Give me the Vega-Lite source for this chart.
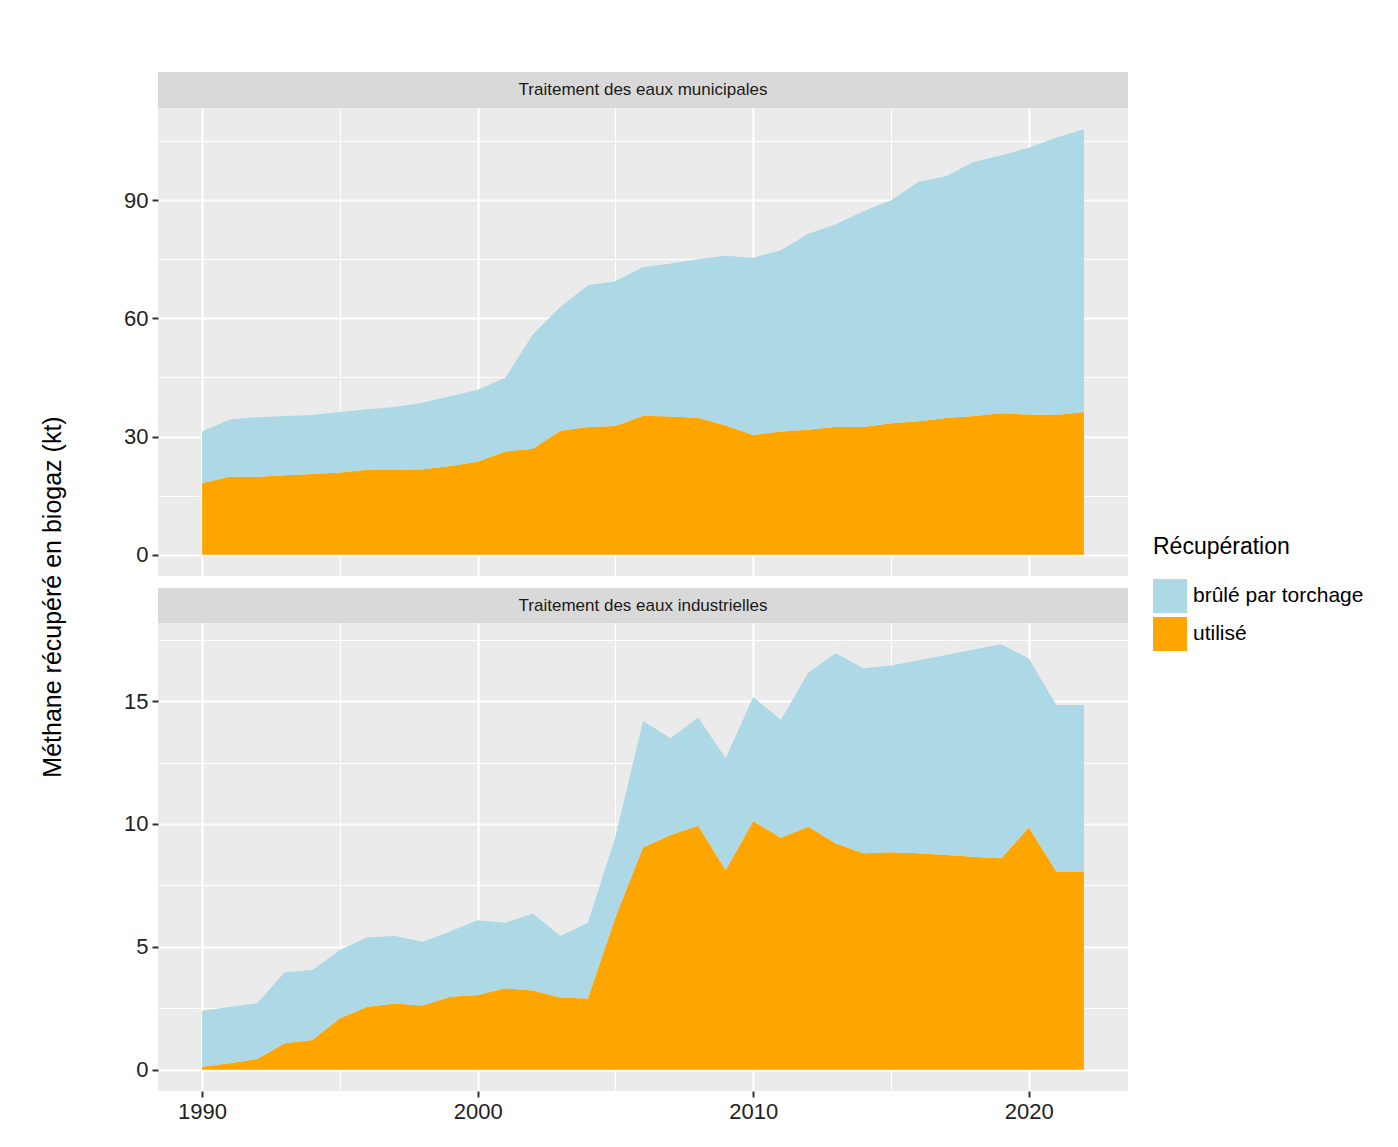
{
  "$schema": "https://vega.github.io/schema/vega-lite/v6.json",
  "background": "white",
  "padding": {"left": 40, "top": 72, "right": 5, "bottom": 5},
  "title": {"text": "Méthane récupéré en biogaz (kt)", "orient": "left", "anchor": "middle", "fontSize": 25, "fontWeight": "normal", "color": "#000000", "font": "Liberation Sans", "offset": 58},
  "datasets": {
    "mun": [
      {"annee":1990,"Récupération":"utilisé","kt":18.2},{"annee":1991,"Récupération":"utilisé","kt":19.8},{"annee":1992,"Récupération":"utilisé","kt":19.8},{"annee":1993,"Récupération":"utilisé","kt":20.2},{"annee":1994,"Récupération":"utilisé","kt":20.5},{"annee":1995,"Récupération":"utilisé","kt":20.9},{"annee":1996,"Récupération":"utilisé","kt":21.6},{"annee":1997,"Récupération":"utilisé","kt":21.5},{"annee":1998,"Récupération":"utilisé","kt":21.7},{"annee":1999,"Récupération":"utilisé","kt":22.5},{"annee":2000,"Récupération":"utilisé","kt":23.6},{"annee":2001,"Récupération":"utilisé","kt":26.2},{"annee":2002,"Récupération":"utilisé","kt":26.9},{"annee":2003,"Récupération":"utilisé","kt":31.5},{"annee":2004,"Récupération":"utilisé","kt":32.4},{"annee":2005,"Récupération":"utilisé","kt":32.7},{"annee":2006,"Récupération":"utilisé","kt":35.3},{"annee":2007,"Récupération":"utilisé","kt":35.1},{"annee":2008,"Récupération":"utilisé","kt":34.8},{"annee":2009,"Récupération":"utilisé","kt":32.8},{"annee":2010,"Récupération":"utilisé","kt":30.4},{"annee":2011,"Récupération":"utilisé","kt":31.3},{"annee":2012,"Récupération":"utilisé","kt":31.7},{"annee":2013,"Récupération":"utilisé","kt":32.5},{"annee":2014,"Récupération":"utilisé","kt":32.4},{"annee":2015,"Récupération":"utilisé","kt":33.4},{"annee":2016,"Récupération":"utilisé","kt":33.9},{"annee":2017,"Récupération":"utilisé","kt":34.7},{"annee":2018,"Récupération":"utilisé","kt":35.2},{"annee":2019,"Récupération":"utilisé","kt":35.9},{"annee":2020,"Récupération":"utilisé","kt":35.6},{"annee":2021,"Récupération":"utilisé","kt":35.5},{"annee":2022,"Récupération":"utilisé","kt":36.2},
      {"annee":1990,"Récupération":"brûlé par torchage","kt":13.1},{"annee":1991,"Récupération":"brûlé par torchage","kt":14.5},{"annee":1992,"Récupération":"brûlé par torchage","kt":15.1},{"annee":1993,"Récupération":"brûlé par torchage","kt":15.0},{"annee":1994,"Récupération":"brûlé par torchage","kt":15.0},{"annee":1995,"Récupération":"brûlé par torchage","kt":15.3},{"annee":1996,"Récupération":"brûlé par torchage","kt":15.3},{"annee":1997,"Récupération":"brûlé par torchage","kt":16.0},{"annee":1998,"Récupération":"brûlé par torchage","kt":16.9},{"annee":1999,"Récupération":"brûlé par torchage","kt":17.7},{"annee":2000,"Récupération":"brûlé par torchage","kt":18.3},{"annee":2001,"Récupération":"brûlé par torchage","kt":18.7},{"annee":2002,"Récupération":"brûlé par torchage","kt":29.0},{"annee":2003,"Récupération":"brûlé par torchage","kt":31.4},{"annee":2004,"Récupération":"brûlé par torchage","kt":36.0},{"annee":2005,"Récupération":"brûlé par torchage","kt":36.7},{"annee":2006,"Récupération":"brûlé par torchage","kt":37.7},{"annee":2007,"Récupération":"brûlé par torchage","kt":38.8},{"annee":2008,"Récupération":"brûlé par torchage","kt":40.2},{"annee":2009,"Récupération":"brûlé par torchage","kt":43.1},{"annee":2010,"Récupération":"brûlé par torchage","kt":45.0},{"annee":2011,"Récupération":"brûlé par torchage","kt":46.0},{"annee":2012,"Récupération":"brûlé par torchage","kt":49.8},{"annee":2013,"Récupération":"brûlé par torchage","kt":51.4},{"annee":2014,"Récupération":"brûlé par torchage","kt":54.8},{"annee":2015,"Récupération":"brûlé par torchage","kt":56.6},{"annee":2016,"Récupération":"brûlé par torchage","kt":60.8},{"annee":2017,"Récupération":"brûlé par torchage","kt":61.4},{"annee":2018,"Récupération":"brûlé par torchage","kt":64.5},{"annee":2019,"Récupération":"brûlé par torchage","kt":65.5},{"annee":2020,"Récupération":"brûlé par torchage","kt":67.7},{"annee":2021,"Récupération":"brûlé par torchage","kt":70.4},{"annee":2022,"Récupération":"brûlé par torchage","kt":71.8}
    ],
    "ind": [
      {"annee":1990,"Récupération":"utilisé","kt":0.12},{"annee":1991,"Récupération":"utilisé","kt":0.26},{"annee":1992,"Récupération":"utilisé","kt":0.43},{"annee":1993,"Récupération":"utilisé","kt":1.07},{"annee":1994,"Récupération":"utilisé","kt":1.21},{"annee":1995,"Récupération":"utilisé","kt":2.09},{"annee":1996,"Récupération":"utilisé","kt":2.56},{"annee":1997,"Récupération":"utilisé","kt":2.69},{"annee":1998,"Récupération":"utilisé","kt":2.61},{"annee":1999,"Récupération":"utilisé","kt":2.97},{"annee":2000,"Récupération":"utilisé","kt":3.04},{"annee":2001,"Récupération":"utilisé","kt":3.31},{"annee":2002,"Récupération":"utilisé","kt":3.22},{"annee":2003,"Récupération":"utilisé","kt":2.94},{"annee":2004,"Récupération":"utilisé","kt":2.90},{"annee":2005,"Récupération":"utilisé","kt":6.2},{"annee":2006,"Récupération":"utilisé","kt":9.04},{"annee":2007,"Récupération":"utilisé","kt":9.55},{"annee":2008,"Récupération":"utilisé","kt":9.93},{"annee":2009,"Récupération":"utilisé","kt":8.13},{"annee":2010,"Récupération":"utilisé","kt":10.12},{"annee":2011,"Récupération":"utilisé","kt":9.44},{"annee":2012,"Récupération":"utilisé","kt":9.89},{"annee":2013,"Récupération":"utilisé","kt":9.20},{"annee":2014,"Récupération":"utilisé","kt":8.81},{"annee":2015,"Récupération":"utilisé","kt":8.85},{"annee":2016,"Récupération":"utilisé","kt":8.81},{"annee":2017,"Récupération":"utilisé","kt":8.74},{"annee":2018,"Récupération":"utilisé","kt":8.67},{"annee":2019,"Récupération":"utilisé","kt":8.60},{"annee":2020,"Récupération":"utilisé","kt":9.86},{"annee":2021,"Récupération":"utilisé","kt":8.06},{"annee":2022,"Récupération":"utilisé","kt":8.06},
      {"annee":1990,"Récupération":"brûlé par torchage","kt":2.27},{"annee":1991,"Récupération":"brûlé par torchage","kt":2.30},{"annee":1992,"Récupération":"brûlé par torchage","kt":2.27},{"annee":1993,"Récupération":"brûlé par torchage","kt":2.89},{"annee":1994,"Récupération":"brûlé par torchage","kt":2.85},{"annee":1995,"Récupération":"brûlé par torchage","kt":2.78},{"annee":1996,"Récupération":"brûlé par torchage","kt":2.83},{"annee":1997,"Récupération":"brûlé par torchage","kt":2.75},{"annee":1998,"Récupération":"brûlé par torchage","kt":2.60},{"annee":1999,"Récupération":"brûlé par torchage","kt":2.65},{"annee":2000,"Récupération":"brûlé par torchage","kt":3.04},{"annee":2001,"Récupération":"brûlé par torchage","kt":2.67},{"annee":2002,"Récupération":"brûlé par torchage","kt":3.14},{"annee":2003,"Récupération":"brûlé par torchage","kt":2.50},{"annee":2004,"Récupération":"brûlé par torchage","kt":3.08},{"annee":2005,"Récupération":"brûlé par torchage","kt":3.28},{"annee":2006,"Récupération":"brûlé par torchage","kt":5.15},{"annee":2007,"Récupération":"brûlé par torchage","kt":3.94},{"annee":2008,"Récupération":"brûlé par torchage","kt":4.40},{"annee":2009,"Récupération":"brûlé par torchage","kt":4.54},{"annee":2010,"Récupération":"brûlé par torchage","kt":5.05},{"annee":2011,"Récupération":"brûlé par torchage","kt":4.79},{"annee":2012,"Récupération":"brûlé par torchage","kt":6.28},{"annee":2013,"Récupération":"brûlé par torchage","kt":7.75},{"annee":2014,"Récupération":"brûlé par torchage","kt":7.53},{"annee":2015,"Récupération":"brûlé par torchage","kt":7.60},{"annee":2016,"Récupération":"brûlé par torchage","kt":7.85},{"annee":2017,"Récupération":"brûlé par torchage","kt":8.14},{"annee":2018,"Récupération":"brûlé par torchage","kt":8.43},{"annee":2019,"Récupération":"brûlé par torchage","kt":8.71},{"annee":2020,"Récupération":"brûlé par torchage","kt":6.88},{"annee":2021,"Récupération":"brûlé par torchage","kt":6.78},{"annee":2022,"Récupération":"brûlé par torchage","kt":6.78}
    ],
    "strip1": [{"t": "Traitement des eaux municipales"}],
    "strip2": [{"t": "Traitement des eaux industrielles"}]
  },
  "spacing": 12,
  "vconcat": [
    {
      "spacing": 0,
      "vconcat": [
        {
          "data": {"name": "strip1"},
          "width": 970, "height": 36,
          "view": {"fill": "#d9d9d9", "stroke": null},
          "mark": {"type": "text", "fontSize": 17, "color": "#1a1a1a", "font": "Liberation Sans", "baseline": "middle", "align": "center"},
          "encoding": {"text": {"field": "t"}}
        },
        {
          "data": {"name": "mun"},
          "width": 970, "height": 468,
          "view": {"fill": "#ebebeb", "stroke": null},
          "mark": {"type": "area", "opacity": 1},
          "encoding": {
            "x": {"field": "annee", "type": "quantitative", "scale": {"domain": [1988.4, 2023.6], "nice": false, "zero": false},
              "axis": {"title": null, "labels": false, "ticks": false, "domain": false, "values": [1990, 1995, 2000, 2005, 2010, 2015, 2020],
                "gridColor": "#ffffff", "gridWidth": {"condition": {"test": "datum.value % 10 === 0", "value": 2.2}, "value": 1.1}}},
            "y": {"field": "kt", "type": "quantitative", "stack": "zero", "scale": {"domain": [-5.4, 113.4], "nice": false, "zero": false},
              "axis": {"title": null, "domain": false, "values": [0, 15, 30, 45, 60, 75, 90, 105],
                "labelExpr": "datum.value % 30 === 0 ? datum.label : ''",
                "tickColor": {"condition": {"test": "datum.value % 30 === 0", "value": "#333333"}, "value": "transparent"},
                "gridColor": "#ffffff", "gridWidth": {"condition": {"test": "datum.value % 30 === 0", "value": 2.2}, "value": 1.1}}},
            "color": {"field": "Récupération", "type": "nominal",
              "scale": {"domain": ["brûlé par torchage", "utilisé"], "range": ["#add8e6", "#ffa500"]},
              "legend": {"title": "Récupération", "orient": "none", "legendX": 995, "legendY": 464}},
            "order": {"field": "Récupération", "sort": "descending"}
          }
        }
      ]
    },
    {
      "spacing": 0,
      "vconcat": [
        {
          "data": {"name": "strip2"},
          "width": 970, "height": 35,
          "view": {"fill": "#d9d9d9", "stroke": null},
          "mark": {"type": "text", "fontSize": 17, "color": "#1a1a1a", "font": "Liberation Sans", "baseline": "middle", "align": "center"},
          "encoding": {"text": {"field": "t"}}
        },
        {
          "data": {"name": "ind"},
          "width": 970, "height": 468,
          "view": {"fill": "#ebebeb", "stroke": null},
          "mark": {"type": "area", "opacity": 1},
          "encoding": {
            "x": {"field": "annee", "type": "quantitative", "scale": {"domain": [1988.4, 2023.6], "nice": false, "zero": false},
              "axis": {"title": null, "domain": false, "values": [1990, 1995, 2000, 2005, 2010, 2015, 2020], "format": "d",
                "labelExpr": "datum.value % 10 === 0 ? datum.label : ''",
                "tickColor": {"condition": {"test": "datum.value % 10 === 0", "value": "#333333"}, "value": "transparent"},
                "gridColor": "#ffffff", "gridWidth": {"condition": {"test": "datum.value % 10 === 0", "value": 2.2}, "value": 1.1}}},
            "y": {"field": "kt", "type": "quantitative", "stack": "zero", "scale": {"domain": [-0.87, 18.18], "nice": false, "zero": false},
              "axis": {"title": null, "domain": false, "values": [0, 2.5, 5, 7.5, 10, 12.5, 15, 17.5],
                "labelExpr": "datum.value % 5 === 0 ? datum.label : ''",
                "tickColor": {"condition": {"test": "datum.value % 5 === 0", "value": "#333333"}, "value": "transparent"},
                "gridColor": "#ffffff", "gridWidth": {"condition": {"test": "datum.value % 5 === 0", "value": 2.2}, "value": 1.1}}},
            "color": {"field": "Récupération", "type": "nominal",
              "scale": {"domain": ["brûlé par torchage", "utilisé"], "range": ["#add8e6", "#ffa500"]}},
            "order": {"field": "Récupération", "sort": "descending"}
          }
        }
      ]
    }
  ],
  "resolve": {"scale": {"color": "shared", "x": "independent", "y": "independent"}},
  "config": {
    "font": "Liberation Sans",
    "axis": {"labelFontSize": 22, "labelColor": "#222222", "labelFont": "Liberation Sans", "tickSize": 6, "tickWidth": 2, "labelPadding": 4, "gridCap": "butt"},
    "legend": {"titleFontSize": 23, "titleFontWeight": "normal", "titleColor": "#000000", "titleFont": "Liberation Sans", "titlePadding": 20,
      "labelFontSize": 21, "labelColor": "#000000", "labelFont": "Liberation Sans", "labelOffset": 6, "labelLimit": 0,
      "symbolType": "square", "symbolSize": 1156, "symbolStrokeWidth": 0, "symbolOpacity": 1, "rowPadding": 4}
  }
}
